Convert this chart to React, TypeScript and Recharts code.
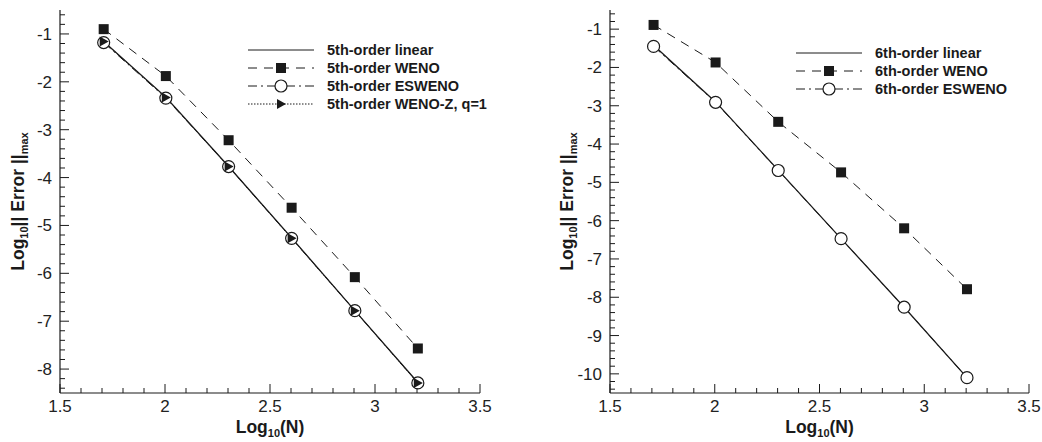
import React from 'react';
import { LineChart, Line, XAxis, YAxis, Legend, Label } from 'recharts';

// log10(N) for N = 51, 101, 201, 401, 801, 1601
const logN = [1.708, 2.004, 2.303, 2.603, 2.904, 3.204];

// left panel: 5th-order schemes
const linear5 = [-1.16, -2.32, -3.77, -5.26, -6.78, -8.28];
const weno5 = [-0.9, -1.88, -3.22, -4.63, -6.08, -7.57];
const esweno5 = [-1.18, -2.34, -3.77, -5.27, -6.78, -8.29];
const wenoz5 = [-1.16, -2.33, -3.77, -5.27, -6.78, -8.29];

// right panel: 6th-order schemes
const linear6 = [-1.42, -2.9, -4.68, -6.47, -8.26, -10.1];
const weno6 = [-0.89, -1.87, -3.42, -4.74, -6.2, -7.79];
const esweno6 = [-1.45, -2.91, -4.69, -6.47, -8.26, -10.1];

const xMajor = [1.5, 2, 2.5, 3, 3.5];
const yMajor5 = [-8, -7, -6, -5, -4, -3, -2, -1];
const yMajor6 = [-10, -9, -8, -7, -6, -5, -4, -3, -2, -1];

const FONT = '"Liberation Sans", Arial, Helvetica, sans-serif';
const INK = '#1a1a1a';

function steps(from: number, to: number, step: number) {
  const out: number[] = [];
  const n = Math.round((to - from) / step);
  for (let i = 0; i <= n; i++) out.push(Math.round((from + i * step) * 1000) / 1000);
  return out;
}

const isMajor = (v: number, majors: number[]) => majors.some((m) => Math.abs(m - v) < 1e-6);

function XTick(props: any) {
  const { x, y, payload, majors } = props;
  const major = isMajor(payload.value, majors);
  return (
    <g>
      <line x1={x} x2={x} y1={y} y2={y - (major ? 9 : 5)} stroke={INK} strokeWidth={1} />
      {major && (
        <text x={x} y={y + 19} textAnchor="middle" fontSize={17} fill="#222" fontFamily={FONT}>
          {payload.value}
        </text>
      )}
    </g>
  );
}

function YTick(props: any) {
  const { x, y, payload, majors } = props;
  const major = isMajor(payload.value, majors);
  return (
    <g>
      <line x1={x} x2={x + (major ? 9 : 5)} y1={y} y2={y} stroke={INK} strokeWidth={1} />
      {major && (
        <text x={x - 8} y={y + 6} textAnchor="end" fontSize={17} fill="#222" fontFamily={FONT}>
          {payload.value}
        </text>
      )}
    </g>
  );
}

const squareDot = (p: any) =>
  p.cx == null ? <g key={p.key} /> : <rect key={p.key} x={p.cx - 5} y={p.cy - 5} width={10} height={10} fill={INK} />;

const circleDot = (p: any) =>
  p.cx == null ? <g key={p.key} /> : <circle key={p.key} cx={p.cx} cy={p.cy} r={6} fill="#fff" stroke={INK} strokeWidth={1.2} />;

const triangleDot = (p: any) =>
  p.cx == null ? (
    <g key={p.key} />
  ) : (
    <polygon key={p.key} points={`${p.cx - 4},${p.cy - 5} ${p.cx + 5},${p.cy} ${p.cx - 4},${p.cy + 5}`} fill={INK} />
  );

type Series = { key: string; name: string; values: number[]; dash?: string; marker?: 'square' | 'circle' | 'triangle' };

const styles5: Series[] = [
  { key: 'linear', name: '5th-order linear', values: linear5 },
  { key: 'weno', name: '5th-order WENO', values: weno5, dash: '9 7', marker: 'square' },
  { key: 'esweno', name: '5th-order ESWENO', values: esweno5, dash: '9 4 2 4', marker: 'circle' },
  { key: 'wenoz', name: '5th-order WENO-Z, q=1', values: wenoz5, dash: '1.5 1.5', marker: 'triangle' },
];

const styles6: Series[] = [
  { key: 'linear', name: '6th-order linear', values: linear6 },
  { key: 'weno', name: '6th-order WENO', values: weno6, dash: '9 7', marker: 'square' },
  { key: 'esweno', name: '6th-order ESWENO', values: esweno6, dash: '9 4 2 4', marker: 'circle' },
];

const dotFor = (m?: string) => (m === 'square' ? squareDot : m === 'circle' ? circleDot : m === 'triangle' ? triangleDot : false);

function LegendBox({ series }: { series: Series[] }) {
  return (
    <svg width={290} height={series.length * 18 + 4} style={{ display: 'block' }}>
      {series.map((s, i) => {
        const y = 10 + i * 18;
        const mid = 41;
        return (
          <g key={s.key}>
            <line x1={8} x2={74} y1={y} y2={y} stroke={INK} strokeWidth={1} strokeDasharray={s.dash} />
            {s.marker === 'square' && <rect x={mid - 5} y={y - 5} width={10} height={10} fill={INK} />}
            {s.marker === 'circle' && <circle cx={mid} cy={y} r={6} fill="#fff" stroke={INK} strokeWidth={1.2} />}
            {s.marker === 'triangle' && (
              <polygon points={`${mid - 4},${y - 5} ${mid + 5},${y} ${mid - 4},${y + 5}`} fill={INK} />
            )}
            <text x={87} y={y + 5} fontSize={14.5} fontWeight="bold" fill={INK} fontFamily={FONT}>
              {s.name}
            </text>
          </g>
        );
      })}
    </svg>
  );
}

function Panel(props: {
  width: number;
  yAxisWidth: number;
  marginRight: number;
  domain: [number, number];
  yMajor: number[];
  series: Series[];
  legendPos: { left: number; top: number };
  yTitleX: number;
}) {
  const { width, yAxisWidth, marginRight, domain, yMajor, series, legendPos, yTitleX } = props;
  const rows = logN.map((x, i) => {
    const r: any = { x };
    series.forEach((s) => (r[s.key] = s.values[i]));
    return r;
  });
  const xTicks = steps(1.5, 3.5, 0.1);
  const yTicks = steps(domain[0] + 0.1, domain[1] - 0.1, 0.2);
  const plotTop = 10;
  const plotBottom = 393;
  const plotMid = (plotTop + plotBottom) / 2;
  const plotCenterX = yAxisWidth + (width - yAxisWidth - marginRight) / 2;

  return (
    <LineChart width={width} height={442} data={rows} margin={{ top: plotTop, right: marginRight, bottom: 0, left: 0 }}>
      <XAxis
        dataKey="x"
        type="number"
        domain={[1.5, 3.5]}
        ticks={xTicks}
        interval={0}
        height={49}
        tickSize={0}
        tickMargin={0}
        tickLine={false}
        axisLine={{ stroke: INK, strokeWidth: 1.2 }}
        tick={(p: any) => <XTick {...p} majors={xMajor} />}
        allowDataOverflow
      >
        <Label
          content={() => (
            <text x={plotCenterX} y={plotBottom + 40} textAnchor="middle" fontSize={17.5} fontWeight="bold" fill={INK} fontFamily={FONT}>
              Log
              <tspan fontSize={11} dy={4}>10</tspan>
              <tspan dy={-4}>(N)</tspan>
            </text>
          )}
        />
      </XAxis>
      <YAxis
        type="number"
        domain={domain}
        ticks={yTicks}
        interval={0}
        width={yAxisWidth}
        tickSize={0}
        tickMargin={0}
        tickLine={false}
        axisLine={{ stroke: INK, strokeWidth: 1.2 }}
        tick={(p: any) => <YTick {...p} majors={yMajor} />}
        allowDataOverflow
      >
        <Label
          content={() => (
            <text
              x={yTitleX}
              y={plotMid + 6}
              transform={`rotate(-90 ${yTitleX} ${plotMid})`}
              textAnchor="middle"
              fontSize={17.5}
              fontWeight="bold"
              fill={INK}
              fontFamily={FONT}
            >
              Log
              <tspan fontSize={11} dy={4}>10</tspan>
              <tspan dy={-4}>|| Error ||</tspan>
              <tspan fontSize={11} dy={4}>max</tspan>
            </text>
          )}
        />
      </YAxis>
      <Legend
        layout="vertical"
        align="center"
        verticalAlign="middle"
        wrapperStyle={{ left: legendPos.left, top: legendPos.top, width: 290 }}
        content={() => <LegendBox series={series} />}
      />
      {series.map((s) => (
        <Line
          key={s.key}
          type="linear"
          dataKey={s.key}
          name={s.name}
          stroke={INK}
          strokeWidth={s.dash ? 1 : 1.3}
          strokeDasharray={s.dash}
          dot={dotFor(s.marker) as any}
          activeDot={false}
          isAnimationActive={false}
        />
      ))}
    </LineChart>
  );
}

export default function App() {
  return (
    <div style={{ position: 'absolute', left: 0, top: 0, width: 1042, height: 442, background: '#fff' }}>
      <div style={{ position: 'absolute', left: 0, top: 0 }}>
        <Panel
          width={520}
          yAxisWidth={60}
          marginRight={40}
          domain={[-8.5, -0.5]}
          yMajor={yMajor5}
          series={styles5}
          legendPos={{ left: 240, top: 40 }}
          yTitleX={18}
        />
      </div>
      <div style={{ position: 'absolute', left: 520, top: 0 }}>
        <Panel
          width={522}
          yAxisWidth={90}
          marginRight={13}
          domain={[-10.5, -0.5]}
          yMajor={yMajor6}
          series={styles6}
          legendPos={{ left: 268, top: 43 }}
          yTitleX={47}
        />
      </div>
    </div>
  );
}
